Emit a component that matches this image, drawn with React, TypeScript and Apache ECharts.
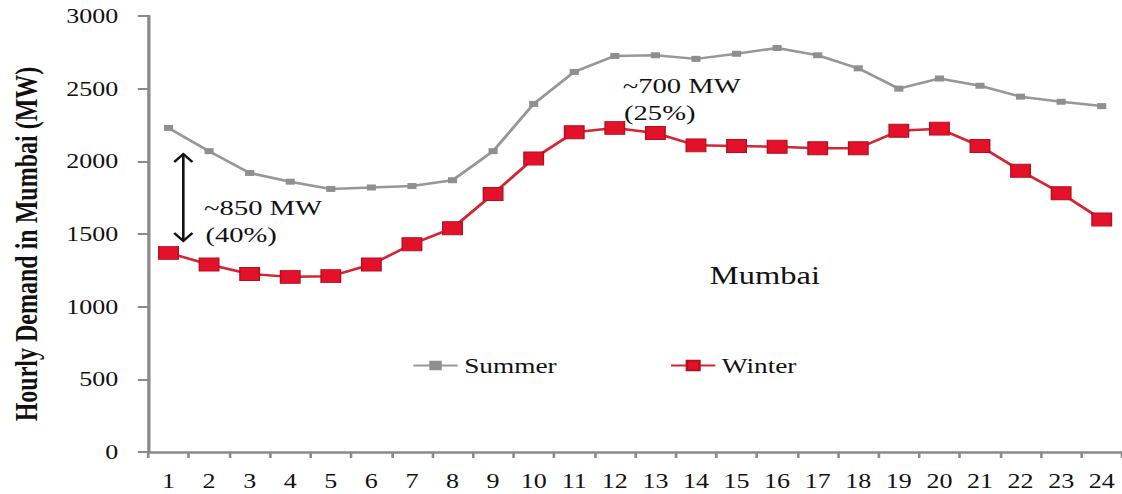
import React, { useEffect, useRef } from "react";
import * as echarts from "echarts";

const hours = ["1","2","3","4","5","6","7","8","9","10","11","12","13","14","15","16","17","18","19","20","21","22","23","24"];
const summer = [2230, 2070, 1920, 1860, 1810, 1820, 1830, 1870, 2070, 2395, 2615, 2725, 2730, 2705, 2740, 2780, 2730, 2640, 2500, 2570, 2520, 2445, 2410, 2380];
const winter = [1370, 1290, 1225, 1205, 1210, 1290, 1430, 1540, 1775, 2020, 2200, 2230, 2195, 2110, 2105, 2100, 2090, 2090, 2210, 2225, 2105, 1935, 1780, 1600];
const seriesNames = ["Summer", "Winter"];
const yTicks = { min: 0, max: 3000, interval: 500 };
const yTitle = "Hourly Demand in Mumbai (MW)";
const noteGap = ["~850 MW", "(40%)"];
const notePeak = ["~700 MW", "(25%)"];
const cityLabel = "Mumbai";

const FULL_W = 1122;
const H = 494;
const NATIVE_W = 863;
const SX = FULL_W / NATIVE_W;
const SERIF = '"Liberation Serif", "Times New Roman", serif';

export default function App() {
  const ref = useRef<HTMLDivElement>(null);
  useEffect(() => {
    if (!ref.current) return;
    const chart = echarts.init(ref.current, null, { renderer: "svg", width: NATIVE_W, height: H });
    const textEl = (x: number, y: number, text: string, size: number) => ({
      type: "text",
      x,
      y,
      silent: true,
      style: { text, fontFamily: SERIF, fontSize: size, fill: "#111", align: "left", verticalAlign: "middle" },
    });
    chart.setOption({
      animation: false,
      backgroundColor: "#ffffff",
      grid: { left: 114, right: 0, top: 16, bottom: 42, containLabel: false },
      legend: {
        left: 317,
        top: 355,
        padding: 0,
        itemWidth: 34,
        itemHeight: 12,
        itemGap: 87,
        textStyle: { fontFamily: SERIF, fontSize: 21, color: "#111" },
        data: seriesNames,
      },
      xAxis: {
        type: "category",
        data: hours,
        boundaryGap: true,
        axisLine: { lineStyle: { color: "#8a8a8a", width: 2.5 } },
        axisTick: { show: true, length: 6, lineStyle: { color: "#8a8a8a", width: 2 } },
        axisLabel: { fontFamily: SERIF, fontSize: 20, color: "#111", margin: 19, interval: 0 },
        splitLine: { show: false },
      },
      yAxis: {
        type: "value",
        min: yTicks.min,
        max: yTicks.max,
        interval: yTicks.interval,
        name: yTitle,
        nameLocation: "middle",
        nameGap: 82,
        nameTextStyle: { fontFamily: SERIF, fontSize: 24, fontWeight: "bold", color: "#111", padding: [0, 20, 0, 0] },
        axisLine: { show: true, lineStyle: { color: "#8a8a8a", width: 2.5 } },
        axisTick: { show: true, length: 8, lineStyle: { color: "#8a8a8a", width: 2 } },
        axisLabel: {
          fontFamily: SERIF,
          fontSize: 20,
          color: "#111",
          margin: 23,
          formatter: (v: number) => String(v),
        },
        splitLine: { show: false },
      },
      series: [
        {
          name: seriesNames[0],
          type: "line",
          data: summer,
          symbol: "rect",
          symbolSize: [7, 6],
          lineStyle: { color: "#979797", width: 2.5 },
          itemStyle: { color: "#8f8f8f", borderColor: "#8f8f8f", borderWidth: 0 },
        },
        {
          name: seriesNames[1],
          type: "line",
          data: winter,
          symbol: "rect",
          symbolSize: [15, 13],
          lineStyle: { color: "#d42532", width: 2.5 },
          itemStyle: { color: "#e3112a", borderColor: "#b50f1f", borderWidth: 1 },
        },
      ],
      graphic: [
        {
          type: "group",
          silent: true,
          children: [
            { type: "line", shape: { x1: 141, y1: 154, x2: 141, y2: 241 }, style: { stroke: "#111", lineWidth: 2 } },
            { type: "polyline", shape: { points: [[134, 162], [141, 154], [148, 162]] }, style: { stroke: "#111", lineWidth: 2, fill: null } },
            { type: "polyline", shape: { points: [[134, 233], [141, 241], [148, 233]] }, style: { stroke: "#111", lineWidth: 2, fill: null } },
          ],
        },
        textEl(157, 208, noteGap[0], 22),
        textEl(158, 235, noteGap[1], 22),
        textEl(479, 86, notePeak[0], 22),
        textEl(480, 113, notePeak[1], 22),
        textEl(546, 275, cityLabel, 25),
      ],
    });
    return () => chart.dispose();
  }, []);
  return (
    <div style={{ position: "fixed", left: 0, top: 0, width: FULL_W, height: H, overflow: "hidden", background: "#fff" }}>
      <div
        ref={ref}
        style={{ width: NATIVE_W, height: H, transform: `scaleX(${SX})`, transformOrigin: "left top" }}
      />
    </div>
  );
}
